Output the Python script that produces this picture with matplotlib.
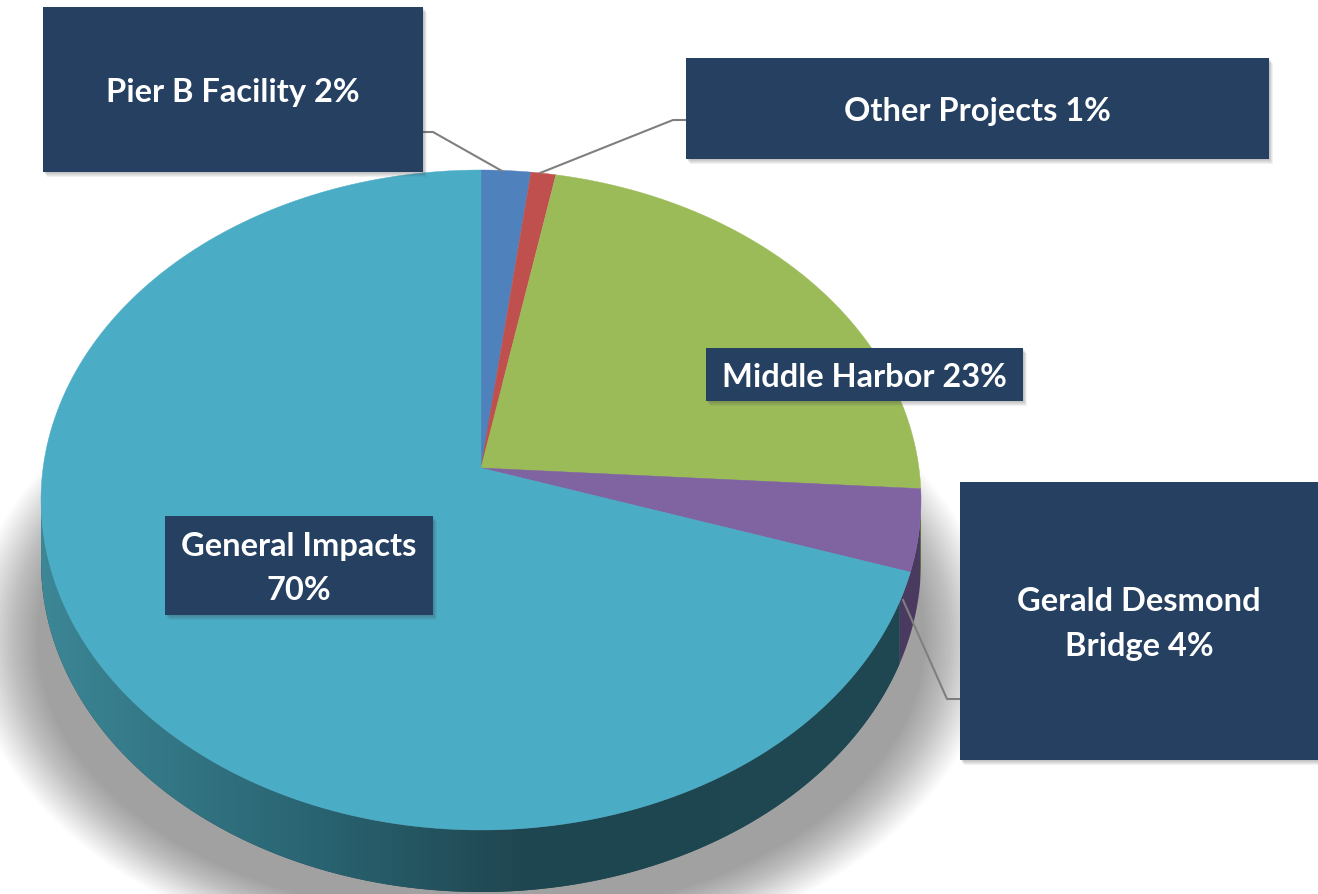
import numpy as np
import matplotlib
matplotlib.use("Agg")
import matplotlib.pyplot as plt
from matplotlib.patches import Polygon, Rectangle, Ellipse
from matplotlib.colors import LinearSegmentedColormap

# -----------------------
# Data
# -----------------------
labels = ["Pier B Facility", "Other Projects", "Middle Harbor",
          "Gerald Desmond Bridge", "General Impacts"]
shares = [2, 1, 23, 4, 70]
colors = ["#4F81BD", "#C0504D", "#9BBB59", "#8064A2", "#4BACC6"]
side_colors = ["#2E4A6E", "#6B2B29", "#5A6E33", "#4A3A60", None]
box_texts = ["Pier B Facility 2%", "Other Projects 1%", "Middle Harbor 23%",
             "Gerald Desmond\nBridge 4%", "General Impacts\n70%"]

# -----------------------
# Layout (pixels)
# -----------------------
W, H = 1318, 894
CX, CY = 481, 500        # centre of top face
RX, RY = 440, 330        # radii of top face
DEPTH = 62 / RY          # thickness in pie units
TILT = 32 / RY           # perspective: apex sits this far above the centre

boxes = [(43, 7, 423, 172), (686, 58, 1269, 159), (706, 348, 1023, 401),
         (960, 482, 1318, 760), (165, 516, 433, 615)]
leaders = [[(423, 132), (433, 132), (502, 171)],
           [(686, 120), (673, 120), (540, 173)],
           None, [(960, 699), (947, 699), (903, 600)], None]

NAVY = "#254061"


def perspective(xy, t=TILT):
    # projective map that keeps the unit circle but moves its centre to (0, t)
    ch = 1 / np.sqrt(1 - t * t)
    sh = t * ch
    x, y = xy[:, 0], xy[:, 1]
    d = y * sh + ch
    return np.column_stack([x / d, (y * ch + sh) / d])


fig = plt.figure(figsize=(W / 100, H / 100), dpi=100)

# pie axes: whole figure, 1 unit = RX px horizontally, RY px vertically
ax = fig.add_axes([0, 0, 1, 1])
wedges, _ = ax.pie(shares, colors=colors, startangle=90, counterclock=False,
                   radius=1, center=(0, 0), wedgeprops=dict(linewidth=0),
                   frame=False)
for w in wedges:
    t = np.radians(np.linspace(w.theta1, w.theta2, 200))
    cx, cy = w.center
    arc = np.column_stack([cx + w.r * np.cos(t), cy + w.r * np.sin(t)])
    pts = np.vstack([[w.center], arc])
    fc = w.get_facecolor()
    w.remove()
    ax.add_patch(Polygon(perspective(pts), closed=True, facecolor=fc,
                         edgecolor=fc, lw=0.3, zorder=1))
ax.set_aspect("auto")
xlim = ((0 - CX) / RX, (W - CX) / RX)
ylim = (-(H - CY) / RY, CY / RY)


def side_poly(a0, a1):
    t = np.radians(np.linspace(a0, a1, 120))
    top = np.column_stack([np.cos(t), np.sin(t)])
    bot = np.column_stack([np.cos(t[::-1]), np.sin(t[::-1]) - DEPTH])
    return np.vstack([top, bot])


# soft shadow behind the pie
clip = Rectangle((-3, -3), 6, 3.35, transform=ax.transData)
for i in range(26):
    k = i / 25
    e = Ellipse((0, -0.42), 2 * (1.16 - 0.15 * k), 2 * (1.0 - 0.15 * k),
                facecolor="black", edgecolor="none", alpha=0.014, zorder=-5)
    ax.add_patch(e)
    e.set_clip_path(clip)

# side pieces
total = sum(shares)
cum = np.cumsum([0] + shares)
for i, s in enumerate(shares):
    start = 90 - 360 * cum[i] / total
    end = 90 - 360 * cum[i + 1] / total
    # keep the part that lies in the lower half (-180..0)
    a_hi = min(start, 0)
    a_lo = max(end, -180)
    if a_hi <= a_lo:
        continue
    poly = Polygon(side_poly(a_lo, a_hi), closed=True, edgecolor="none",
                   facecolor=side_colors[i] or "#1F4650", zorder=-1)
    ax.add_patch(poly)
    if side_colors[i] is None:
        cmap = LinearSegmentedColormap.from_list(
            "side", [(0, "#3C8695"), (0.3, "#2A6573"), (0.55, "#1F4650"),
                     (1, "#1E4852")])
        grad = np.linspace(0, 1, 256).reshape(1, -1)
        im = ax.imshow(grad, cmap=cmap, extent=(-1, 1, -1 - DEPTH, 0.05),
                       aspect="auto", zorder=-1, interpolation="bilinear")
        im.set_clip_path(poly)

ax.set_xlim(xlim)
ax.set_ylim(ylim)
ax.axis("off")

# overlay axes in pixel coords for label boxes
ov = fig.add_axes([0, 0, 1, 1], facecolor="none")
ov.set_xlim(0, W)
ov.set_ylim(H, 0)
ov.axis("off")

for pts in leaders:
    if pts is None:
        continue
    xs, ys = zip(*pts)
    ov.plot(xs, ys, color="#7F7F7F", lw=1.5, zorder=2)

for (x0, y0, x1, y1), txt in zip(boxes, box_texts):
    for j in range(5):
        off = 1 + j
        ov.add_patch(Rectangle((x0 + off * 0.8, y0 + off), x1 - x0, y1 - y0,
                               facecolor="#404040", edgecolor="none",
                               alpha=0.07, zorder=3))
    ov.add_patch(Rectangle((x0, y0), x1 - x0, y1 - y0, facecolor=NAVY,
                           edgecolor="none", zorder=4))
    ov.text((x0 + x1) / 2, (y0 + y1) / 2 + 3, txt, color="white", ha="center",
            va="center", fontsize=23.5, fontweight="bold", family="Lato",
            linespacing=1.64, zorder=5)

fig.savefig("out.png", dpi=100)
